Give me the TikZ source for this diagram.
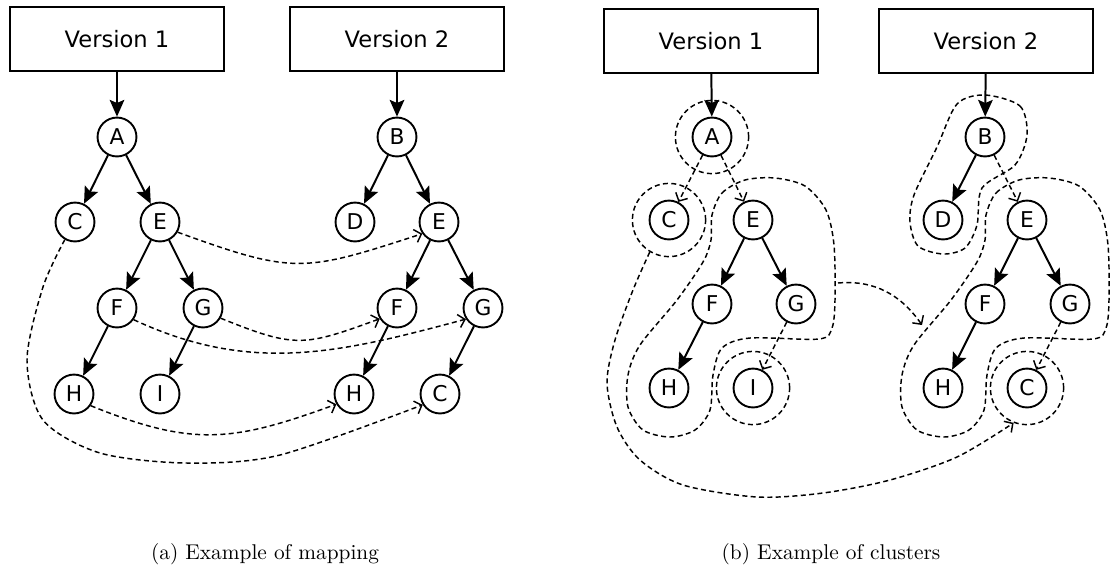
\documentclass[tikz,border=0pt]{standalone}
\usepackage{fontspec}
\usepackage{tikz}
\usetikzlibrary{arrows.meta}
\newfontfamily\dejavu{DejaVu Sans}

\tikzset{
  version/.style={draw, line width=0.9pt, minimum width=3.6cm, minimum height=1.07cm, font=\dejavu\fontsize{10.8}{13}\selectfont},
  vertex/.style={draw, circle, line width=0.9pt, minimum size=18.6pt, inner sep=0pt, font=\dejavu\fontsize{10.4}{11}\selectfont},
  edge/.style={line width=0.95pt, -{Stealth[length=8pt,width=7pt,inset=1.5pt]}},
  link/.style={line width=0.7pt, dash pattern=on 2.4pt off 1.6pt, -{Straight Barb[length=3pt,width=6.4pt]}},
  cluster/.style={draw, line width=0.7pt, dash pattern=on 2.4pt off 1.6pt},
  ring/.style={cluster, circle, minimum size=35pt, inner sep=0pt}
}

\begin{document}
\begin{tikzpicture}[x=0.0168cm, y=-0.0168cm]
\useasboundingbox (0,0) rectangle (1111,574);

\node[version] (av1) at (117,39) {Version 1};
\node[version] (av2) at (397,39) {Version 2};
\node[vertex] (aA) at (117,137) {A};
\node[vertex] (aC) at (75,222) {C};
\node[vertex] (aE) at (160,222) {E};
\node[vertex] (aF) at (117,308) {F};
\node[vertex] (aG) at (203,308) {G};
\node[vertex] (aH) at (74,394) {H};
\node[vertex] (aI) at (160,394) {I};
\node[vertex] (aB) at (397,137) {B};
\node[vertex] (aD) at (355,222) {D};
\node[vertex] (aE2) at (439,222) {E};
\node[vertex] (aF2) at (397,308) {F};
\node[vertex] (aG2) at (483,308) {G};
\node[vertex] (aH2) at (354,394) {H};
\node[vertex] (aC2) at (440,394) {C};

\draw[edge] (av1) -- (aA);
\draw[edge] (aA) -- (aC);
\draw[edge] (aA) -- (aE);
\draw[edge] (aE) -- (aF);
\draw[edge] (aE) -- (aG);
\draw[edge] (aF) -- (aH);
\draw[edge] (aG) -- (aI);
\draw[edge] (av2) -- (aB);
\draw[edge] (aB) -- (aD);
\draw[edge] (aB) -- (aE2);
\draw[edge] (aE2) -- (aF2);
\draw[edge] (aE2) -- (aG2);
\draw[edge] (aF2) -- (aH2);
\draw[edge] (aG2) -- (aC2);

\draw[link] (aE.-30) to[out=-20, in=198, looseness=1.3] (aE2.215);
\draw[link] (aG.-30) to[out=-22, in=200, looseness=1.3] (aF2.212);
\draw[link] (aF.-35) to[out=-25, in=195] (aG2.213);
\draw[link] (aH.-35) to[out=-22, in=200, looseness=1.15] (aH2.210);
\draw[link] plot[smooth] coordinates {(aC.240) (43,287) (27,360) (43,420) (100,453) (187,463) (280,455) (aC2.212)};

\node[anchor=base, font=\fontsize{10.2}{12}\selectfont] (capa) at (265,559) {(a) Example of mapping};

\node[version] (bv1) at (711,41) {Version 1};
\node[version] (bv2) at (986,41) {Version 2};
\node[vertex] (bA) at (712,137) {A};
\node[vertex] (bC) at (669,220) {C};
\node[vertex] (bE) at (753,220) {E};
\node[vertex] (bF) at (712,304) {F};
\node[vertex] (bG) at (796,304) {G};
\node[vertex] (bH) at (669,388) {H};
\node[vertex] (bI) at (753,388) {I};
\node[vertex] (bB) at (985,137) {B};
\node[vertex] (bD) at (943,220) {D};
\node[vertex] (bE2) at (1027,220) {E};
\node[vertex] (bF2) at (985,304) {F};
\node[vertex] (bG2) at (1070,304) {G};
\node[vertex] (bH2) at (943,388) {H};
\node[vertex] (bC2) at (1027,388) {C};

\node[ring] (rA) at (bA) {};
\node[ring] (rC) at (bC) {};
\node[ring] (rI) at (bI) {};
\node[ring] (rC2) at (bC2) {};
\draw[cluster, shift={(bB)}] plot[smooth cycle] coordinates {(0,-42) (35,-31) (42,-2) (30,28) (-3,51) (-8,88) (-20,111) (-42,117) (-67,109) (-75,85) (-71,58) (-48,10) (-28,-33)};
\draw[cluster, shift={(bE)}] plot[smooth cycle] coordinates {(-41,-5) (-31,-27) (-8,-40) (22,-42) (52,-34) (73,-10) (81,25) (82,80) (79,108) (66,119) (-3,118) (-31,128) (-40,155) (-43,190) (-58,210) (-83,217) (-110,210) (-125,187) (-125,155) (-113,125) (-76,80) (-50,42) (-42,20)};
\draw[cluster, shift={(bE2)}] plot[smooth cycle] coordinates {(-41,-5) (-31,-27) (-8,-40) (22,-42) (52,-34) (73,-10) (81,25) (82,80) (79,108) (66,119) (-3,118) (-31,128) (-40,155) (-43,190) (-58,210) (-83,217) (-110,210) (-125,187) (-125,155) (-113,125) (-76,80) (-50,42) (-42,20)};

\draw[edge] (bv1) -- (bA);
\draw[edge] (bE) -- (bF);
\draw[edge] (bE) -- (bG);
\draw[edge] (bF) -- (bH);
\draw[edge] (bv2) -- (bB);
\draw[edge] (bB) -- (bD);
\draw[edge] (bE2) -- (bF2);
\draw[edge] (bE2) -- (bG2);
\draw[edge] (bF2) -- (bH2);

\draw[link] (bA) -- (bC);
\draw[link] (bA) -- (bE);
\draw[link] (bG) -- (bI);
\draw[link] (bB) -- (bE2);
\draw[link] (bG2) -- (bC2);

\coordinate (bL) at (838,283);
\coordinate (bR) at (922,325);
\draw[link] (bL) to[out=5, in=125] (bR);
\draw[link] plot[smooth] coordinates {(rC.239) (633,290) (615,340) (607,383) (617,427) (640,460) (683,485) (757,497) (823,493) (890,480) (957,457) (rC2.249)};

\node[anchor=base, font=\fontsize{10.2}{12}\selectfont] (capb) at (831,559) {(b) Example of clusters};
\end{tikzpicture}
\end{document}
